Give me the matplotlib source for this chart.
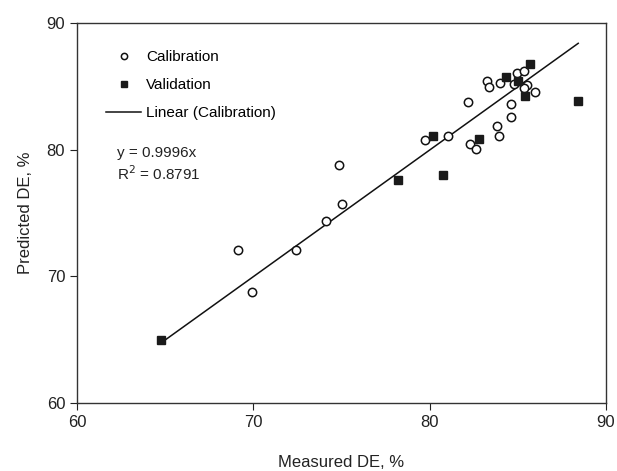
import matplotlib
matplotlib.use("Agg")
import matplotlib.pyplot as plt
import numpy as np

plt.rcParams['font.family'] = ['Liberation Sans', 'DejaVu Sans']

cal_x = [84.94, 85.35, 83.27, 83.35, 83.99, 84.80, 85.51, 85.37, 86.00, 82.20,
         84.60, 84.60, 83.84, 83.94, 81.06, 79.72, 82.29, 82.63,
         74.84, 75.01, 74.10, 72.42, 69.15, 69.91]
cal_y = [86.03, 86.24, 85.45, 84.97, 85.24, 85.19, 85.11, 84.85, 84.53, 83.74,
         83.61, 82.56, 81.87, 81.08, 81.08, 80.74, 80.47, 80.06,
         78.79, 75.69, 74.40, 72.11, 72.08, 68.74]

val_x = [85.70, 84.33, 85.00, 85.41, 88.40, 80.21, 82.78, 80.78, 78.22, 64.76]
val_y = [86.80, 85.70, 85.45, 84.26, 83.87, 81.08, 80.84, 77.98, 77.61, 64.98]

slope = 0.9996
r2 = 0.8791
line_x = [64.76, 88.43]

xticks = [60, 70, 80, 90]
yticks = [60, 70, 80, 90]

fig = plt.figure(figsize=(6.17, 4.71), dpi=100)
ax = fig.add_axes([0.1248, 0.1444, 0.8572, 0.8068])

ax.plot(cal_x, cal_y, linestyle='none', marker='o', markersize=6,
        markerfacecolor='white', markeredgecolor='#111111', markeredgewidth=1.1,
        label='Calibration', zorder=3)
ax.plot(val_x, val_y, linestyle='none', marker='s', markersize=6.2,
        markerfacecolor='#1a1a1a', markeredgecolor='#1a1a1a',
        label='Validation', zorder=4)
lx = np.array(line_x)
ax.plot(lx, slope * lx, color='#111111', linewidth=1.1,
        label='Linear (Calibration)', zorder=2)

ax.set_xlim(60, 90)
ax.set_ylim(60, 90)
ax.set_xticks(xticks)
ax.set_yticks(yticks)
ax.tick_params(direction='out', length=5, width=0.8, labelsize=12,
               colors='#222222', top=False, right=False)
for s in ax.spines.values():
    s.set_linewidth(1.0)
    s.set_color('#333333')

ax.set_xlabel('Measured DE, %', fontsize=12, color='#222222', labelpad=18)
ax.set_ylabel('Predicted DE, %', fontsize=12, color='#222222', labelpad=10)

leg = ax.legend(loc='upper left', bbox_to_anchor=(0.054, 0.929), frameon=False,
                fontsize=11, handlelength=2.35, handletextpad=0.3,
                labelspacing=0.92, borderpad=0, borderaxespad=0,
                markerscale=0.75)

ax.text(0.075, 0.659, 'y = 0.9996x', transform=ax.transAxes, fontsize=11,
        color='#222222', va='center')
ax.text(0.075, 0.603, 'R$^2$ = 0.8791', transform=ax.transAxes, fontsize=11,
        color='#222222', va='center')

fig.savefig('out.png', dpi=100)
